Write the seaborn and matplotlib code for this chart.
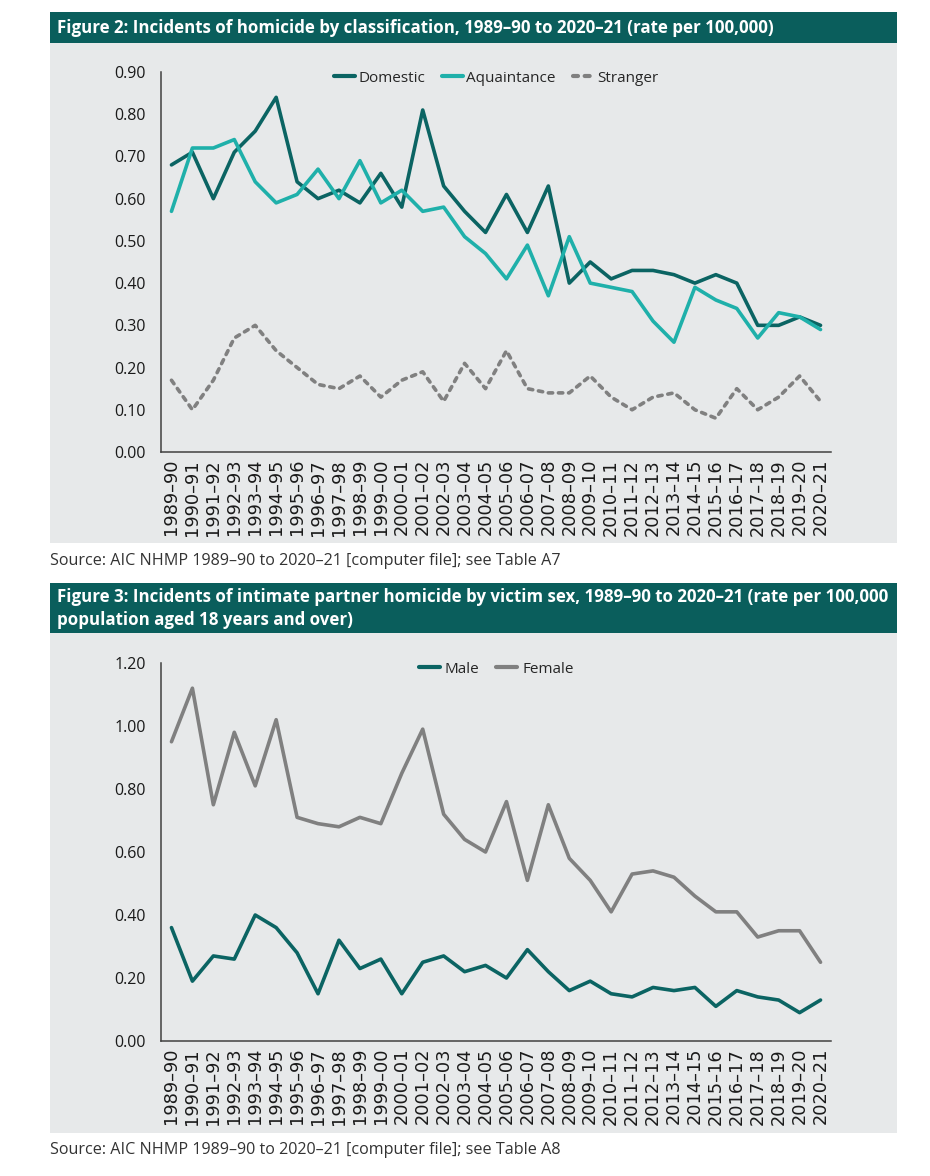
import matplotlib
matplotlib.use("Agg")
import matplotlib.pyplot as plt
import seaborn as sns
import pandas as pd
from matplotlib.patches import Rectangle

# ---------------- data ----------------
years = ["1989–90", "1990–91", "1991–92", "1992–93", "1993–94", "1994–95", "1995–96",
         "1996–97", "1997–98", "1998–99", "1999–00", "2000–01", "2001–02", "2002–03",
         "2003–04", "2004–05", "2005–06", "2006–07", "2007–08", "2008–09", "2009–10",
         "2010–11", "2011–12", "2012–13", "2013–14", "2014–15", "2015–16", "2016–17",
         "2017–18", "2018–19", "2019–20", "2020–21"]

domestic = [0.68, 0.71, 0.60, 0.71, 0.76, 0.84, 0.64, 0.60, 0.62, 0.59, 0.66, 0.58,
            0.81, 0.63, 0.57, 0.52, 0.61, 0.52, 0.63, 0.40, 0.45, 0.41, 0.43, 0.43,
            0.42, 0.40, 0.42, 0.40, 0.30, 0.30, 0.32, 0.30]
aquaintance = [0.57, 0.72, 0.72, 0.74, 0.64, 0.59, 0.61, 0.67, 0.60, 0.69, 0.59, 0.62,
               0.57, 0.58, 0.51, 0.47, 0.41, 0.49, 0.37, 0.51, 0.40, 0.39, 0.38, 0.31,
               0.26, 0.39, 0.36, 0.34, 0.27, 0.33, 0.32, 0.29]
stranger = [0.17, 0.10, 0.17, 0.27, 0.30, 0.24, 0.20, 0.16, 0.15, 0.18, 0.13, 0.17,
            0.19, 0.12, 0.21, 0.15, 0.24, 0.15, 0.14, 0.14, 0.18, 0.13, 0.10, 0.13,
            0.14, 0.10, 0.08, 0.15, 0.10, 0.13, 0.18, 0.12]

male = [0.36, 0.19, 0.27, 0.26, 0.40, 0.36, 0.28, 0.15, 0.32, 0.23, 0.26, 0.15,
        0.25, 0.27, 0.22, 0.24, 0.20, 0.29, 0.22, 0.16, 0.19, 0.15, 0.14, 0.17,
        0.16, 0.17, 0.11, 0.16, 0.14, 0.13, 0.09, 0.13]
female = [0.95, 1.12, 0.75, 0.98, 0.81, 1.02, 0.71, 0.69, 0.68, 0.71, 0.69, 0.85,
          0.99, 0.72, 0.64, 0.60, 0.76, 0.51, 0.75, 0.58, 0.51, 0.41, 0.53, 0.54,
          0.52, 0.46, 0.41, 0.41, 0.33, 0.35, 0.35, 0.25]

fig2_yticks = [0.0, 0.1, 0.2, 0.3, 0.4, 0.5, 0.6, 0.7, 0.8, 0.9]
fig3_yticks = [0.0, 0.2, 0.4, 0.6, 0.8, 1.0, 1.2]

title2 = "Figure 2: Incidents of homicide by classification, 1989–90 to 2020–21 (rate per 100,000)"
title3a = "Figure 3: Incidents of intimate partner homicide by victim sex, 1989–90 to 2020–21 (rate per 100,000"
title3b = "population aged 18 years and over)"
source2 = "Source: AIC NHMP 1989–90 to 2020–21 [computer file]; see Table A7"
source3 = "Source: AIC NHMP 1989–90 to 2020–21 [computer file]; see Table A8"

# ---------------- style ----------------
sns.set_theme(style="white")
plt.rcParams["font.family"] = ["Open Sans", "DejaVu Sans"]

TEAL_DARK = "#0b6463"
TEAL = "#1fb0aa"
GREY = "#808080"
HEADER = "#0a5e5c"
PANEL = "#e7e9ea"
TEXT = "#1a1a1a"

W, H = 930, 1176
fig = plt.figure(figsize=(W / 100, H / 100), dpi=100)
fig.patch.set_facecolor("white")


def rect(x0, y0, x1, y1, color):
    fig.add_artist(Rectangle((x0 / W, 1 - y1 / H), (x1 - x0) / W, (y1 - y0) / H,
                             transform=fig.transFigure, facecolor=color,
                             edgecolor="none", zorder=-5))


def ax_at(x0, y0, x1, y1):
    return fig.add_axes([x0 / W, 1 - y1 / H, (x1 - x0) / W, (y1 - y0) / H])


# backgrounds / headers
rect(50, 12, 897, 43, HEADER)
rect(50, 43, 897, 543, PANEL)
rect(50, 583, 897, 633, HEADER)
rect(50, 633, 897, 1133, PANEL)

TFS = 12.15
fig.text(57 / W, 1 - 28 / H, title2, color="white", fontsize=TFS, fontweight="bold",
         va="center", ha="left")
fig.text(57 / W, 1 - 597 / H, title3a, color="white", fontsize=TFS, fontweight="bold",
         va="center", ha="left")
fig.text(57 / W, 1 - 620 / H, title3b, color="white", fontsize=TFS, fontweight="bold",
         va="center", ha="left")
fig.text(50 / W, 1 - 561 / H, source2, color="#333333", fontsize=11.6,
         va="center", ha="left")
fig.text(50 / W, 1 - 1150 / H, source3, color="#333333", fontsize=11.6,
         va="center", ha="left")


def style_axes(ax, yticks, ymax):
    ax.set_facecolor("none")
    ax.set_xlim(-0.5, len(years) - 0.5)
    ax.set_ylim(0, ymax)
    ax.set_yticks(yticks)
    ax.set_yticklabels([f"{v:.2f}" for v in yticks], fontsize=11.5, color=TEXT)
    ax.set_xticks(range(len(years)))
    ax.set_xticklabels(years, rotation=90, fontsize=12.8, color=TEXT,
                       family="DejaVu Sans", va="top")
    ax.tick_params(axis="both", length=0)
    ax.tick_params(axis="x", pad=5)
    ax.tick_params(axis="y", pad=11)
    for s in ["top", "right"]:
        ax.spines[s].set_visible(False)
    for s in ["left", "bottom"]:
        ax.spines[s].set_color("#404040")
        ax.spines[s].set_linewidth(1.1)
    ax.set_xlabel("")
    ax.set_ylabel("")
    ax.grid(False)


# ---------------- Figure 2 ----------------
ax1 = ax_at(161, 72, 831, 452)
df1 = pd.DataFrame({
    "x": list(range(len(years))) * 3,
    "rate": domestic + aquaintance + stranger,
    "type": ["Domestic"] * len(years) + ["Aquaintance"] * len(years) + ["Stranger"] * len(years),
})
sns.lineplot(data=df1, x="x", y="rate", hue="type", style="type",
             palette={"Domestic": TEAL_DARK, "Aquaintance": TEAL, "Stranger": GREY},
             dashes={"Domestic": "", "Aquaintance": "", "Stranger": (1.2, 1.6)},
             linewidth=2.6, ax=ax1, legend=True)
for ln in ax1.lines:
    ln.set_dash_capstyle("round")
style_axes(ax1, fig2_yticks, 0.9)
h, l = ax1.get_legend_handles_labels()
for hh in h:
    hh.set_linewidth(3)
    hh.set_dash_capstyle("round")
ax1.legend(h, l, loc="upper center", bbox_to_anchor=(0.5, 1.04), ncol=3, frameon=False,
           fontsize=11, handlelength=1.4, handletextpad=0.2, columnspacing=1.1)

# ---------------- Figure 3 ----------------
ax2 = ax_at(161, 663, 831, 1041)
df2 = pd.DataFrame({
    "x": list(range(len(years))) * 2,
    "rate": male + female,
    "sex": ["Male"] * len(years) + ["Female"] * len(years),
})
sns.lineplot(data=df2, x="x", y="rate", hue="sex",
             palette={"Male": TEAL_DARK, "Female": GREY},
             linewidth=2.6, ax=ax2, legend=True)
style_axes(ax2, fig3_yticks, 1.2)
h, l = ax2.get_legend_handles_labels()
for hh in h:
    hh.set_linewidth(3)
ax2.legend(h, l, loc="upper center", bbox_to_anchor=(0.5, 1.04), ncol=2, frameon=False,
           fontsize=11, handlelength=1.4, handletextpad=0.3, columnspacing=1.1)

fig.savefig("out.png", dpi=100, facecolor="white")
